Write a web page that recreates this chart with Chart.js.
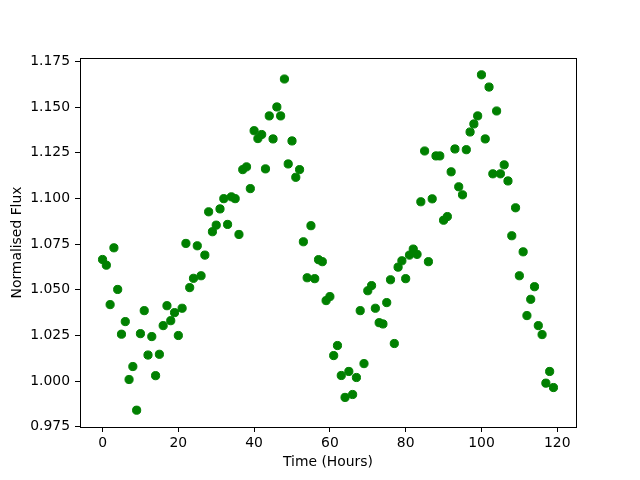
<!DOCTYPE html>
<html>
<head>
<meta charset="utf-8">
<script src="https://cdn.jsdelivr.net/npm/chart.js@4/dist/chart.umd.min.js"></script>
<style>
  html, body { margin: 0; padding: 0; background: #fff; }
  canvas { display: block; }
</style>
</head>
<body>
<canvas id="fluxChart" width="640" height="480"></canvas>
<script>
// Observation times (hours)
const timeHours = [
    0, 1, 2, 3, 4, 5, 6, 7, 8, 9, 10, 11, 12, 13, 14, 15, 16, 17, 18, 19,
    20, 21, 22, 23, 24, 25, 26, 27, 28, 29, 30, 31, 32, 33, 34, 35, 36, 37, 38, 39,
    40, 41, 42, 43, 44, 45, 46, 47, 48, 49, 50, 51, 52, 53, 54, 55, 56, 57, 58, 59,
    60, 61, 62, 63, 64, 65, 66, 67, 68, 69, 70, 71, 72, 73, 74, 75, 76, 77, 78, 79,
    80, 81, 82, 83, 84, 85, 86, 87, 88, 89, 90, 91, 92, 93, 94, 95, 96, 97, 98, 99,
    100, 101, 102, 103, 104, 105, 106, 107, 108, 109, 110, 111, 112, 113, 114, 115, 116, 117, 118, 119
];

// Normalised flux
const normFlux = [
    1.0666, 1.0635, 1.0419, 1.0730, 1.0502, 1.0257, 1.0326, 1.0009, 1.0080, 0.9841,
    1.0260, 1.0386, 1.0143, 1.0244, 1.0030, 1.0147, 1.0304, 1.0413, 1.0331, 1.0375,
    1.0250, 1.0399, 1.0754, 1.0512, 1.0563, 1.0741, 1.0577, 1.0690, 1.0927, 1.0818,
    1.0854, 1.0943, 1.0999, 1.0858, 1.1009, 1.0999, 1.0803, 1.1158, 1.1173, 1.1054,
    1.1371, 1.1328, 1.1350, 1.1162, 1.1452, 1.1326, 1.1501, 1.1452, 1.1654, 1.1189,
    1.1315, 1.1116, 1.1158, 1.0763, 1.0566, 1.0851, 1.0561, 1.0665, 1.0654, 1.0441,
    1.0463, 1.0140, 1.0195, 1.0031, 0.9911, 1.0053, 0.9927, 1.0020, 1.0386, 1.0096,
    1.0495, 1.0523, 1.0399, 1.0320, 1.0313, 1.0430, 1.0555, 1.0206, 1.0624, 1.0659,
    1.0561, 1.0690, 1.0723, 1.0694, 1.0982, 1.1260, 1.0654, 1.0998, 1.1233, 1.1233,
    1.0881, 1.0901, 1.1146, 1.1271, 1.1064, 1.1020, 1.1267, 1.1364, 1.1408, 1.1452,
    1.1677, 1.1326, 1.1610, 1.1135, 1.1479, 1.1135, 1.1184, 1.1096, 1.0796, 1.0949,
    1.0577, 1.0708, 1.0359, 1.0448, 1.0517, 1.0304, 1.0255, 0.9989, 1.0053, 0.9965
];

const xTicks = [0, 20, 40, 60, 80, 100, 120];
const yTicks = [0.975, 1.000, 1.025, 1.050, 1.075, 1.100, 1.125, 1.150, 1.175];

const points = timeHours.map((t, i) => ({ x: t, y: normFlux[i] }));

const FONT = { family: 'DejaVu Sans', size: 13.9 };

// matplotlib-style box around the axes
const framePlugin = {
    id: 'frame',
    afterDraw(chart) {
        const { ctx, chartArea: a } = chart;
        ctx.save();
        ctx.strokeStyle = '#000';
        ctx.lineWidth = 1;
        ctx.strokeRect(a.left + 0.5, a.top + 0.5, a.right - a.left, a.bottom - a.top);
        ctx.restore();
    }
};

const ctx = document.getElementById('fluxChart').getContext('2d');

new Chart(ctx, {
    type: 'scatter',
    data: {
        datasets: [{
            data: points,
            backgroundColor: '#008000',
            borderColor: '#008000',
            borderWidth: 1,
            pointRadius: 4.1,
            pointHoverRadius: 4.1
        }]
    },
    options: {
        responsive: false,
        animation: false,
        layout: { padding: { left: 0, top: 58, right: 64, bottom: 0 } },
        plugins: {
            legend: { display: false },
            tooltip: { enabled: false }
        },
        scales: {
            x: {
                type: 'linear',
                min: -5.95,
                max: 124.95,
                afterFit: s => { s.height = 53; },
                afterBuildTicks: s => { s.ticks = xTicks.map(v => ({ value: v })); },
                grid: { drawOnChartArea: false, drawTicks: true, tickLength: 5, tickColor: '#000', tickWidth: 1 },
                border: { color: '#000', width: 1 },
                ticks: { color: '#000', font: FONT, padding: 3, maxRotation: 0 },
                title: { display: true, text: 'Time (Hours)', color: '#000', font: FONT, padding: { top: 0, bottom: 9 } }
            },
            y: {
                type: 'linear',
                min: 0.9749,
                max: 1.1769,
                afterFit: s => { s.width = 80; },
                afterBuildTicks: s => { s.ticks = yTicks.map(v => ({ value: v })); },
                grid: { drawOnChartArea: false, drawTicks: true, tickLength: 5, tickColor: '#000', tickWidth: 1 },
                border: { color: '#000', width: 1 },
                ticks: { color: '#000', font: FONT, padding: 5, callback: v => Number(v).toFixed(3) },
                title: { display: true, text: 'Normalised Flux', color: '#000', font: FONT, padding: { top: 9, bottom: 0 } }
            }
        }
    },
    plugins: [framePlugin]
});
</script>
</body>
</html>
